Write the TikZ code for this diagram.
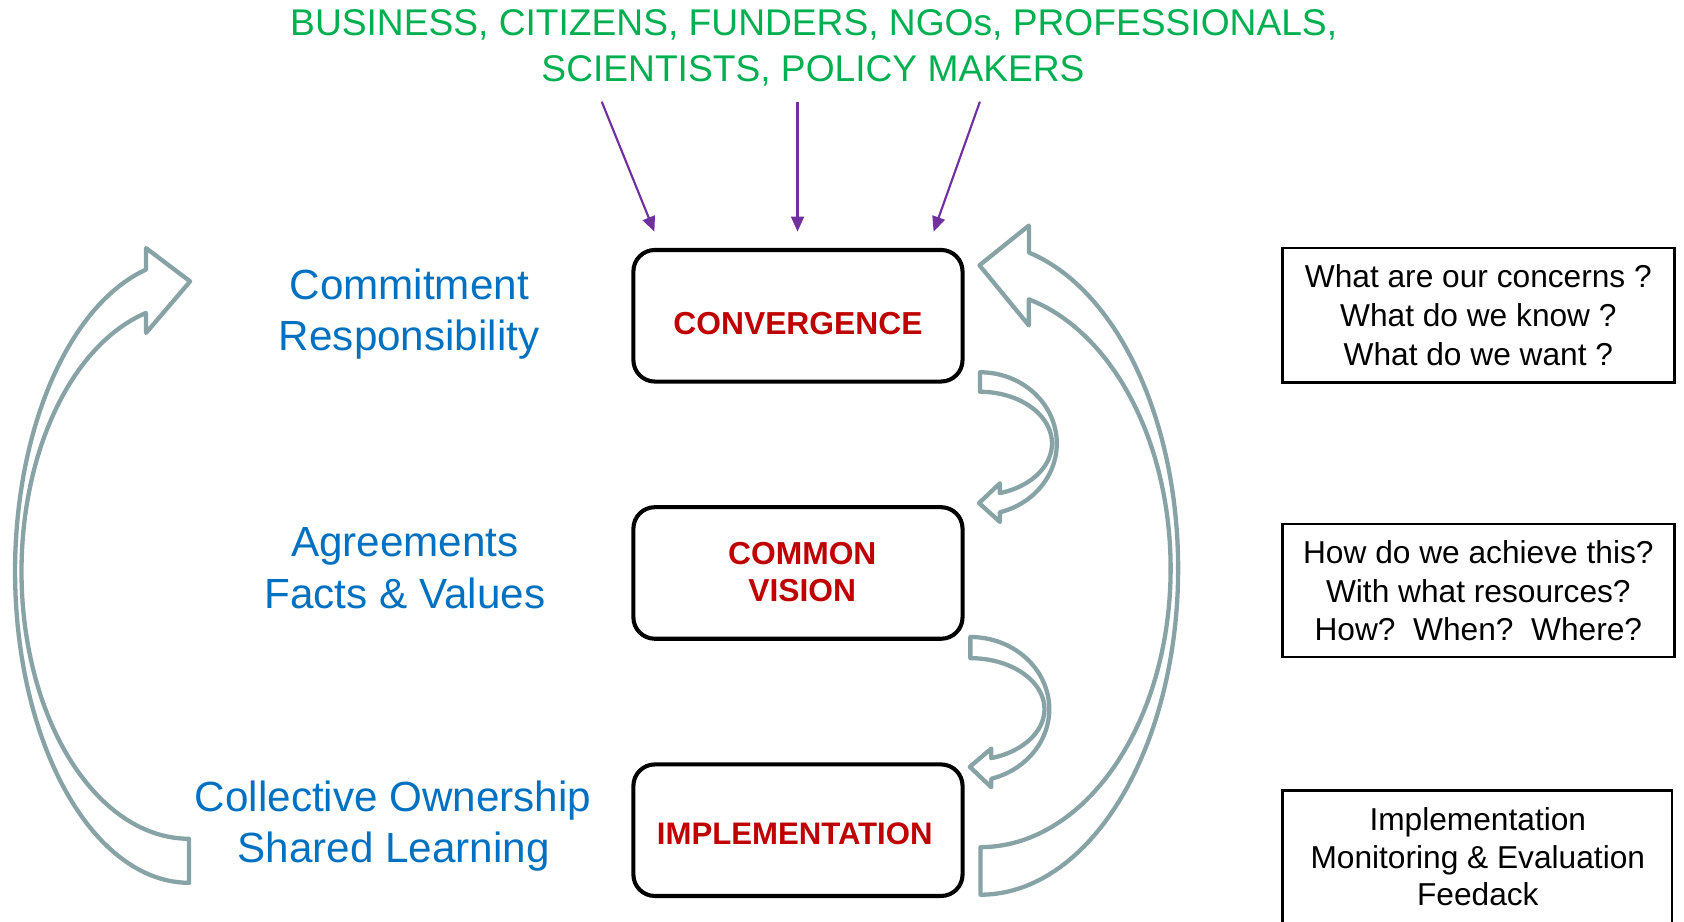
\documentclass[tikz,border=0pt]{standalone}
\usepackage{fontspec}
\setmainfont{Liberation Sans}
\usetikzlibrary{arrows.meta}
\definecolor{tgreen}{RGB}{0,176,80}
\definecolor{tblue}{RGB}{0,112,192}
\definecolor{tred}{RGB}{192,0,0}
\definecolor{tpurple}{RGB}{112,48,160}
\definecolor{tgrey}{RGB}{136,163,166}
\begin{document}
\begin{tikzpicture}[x=1pt,y=-1pt,
  stagebox/.style={draw=black, line width=3.8pt, rounded corners=20pt, minimum width=306.5pt, minimum height=122.5pt, inner sep=0pt},
  qbox/.style={draw=black, line width=2.2pt, minimum width=365pt, minimum height=125pt, align=center, font=\fontsize{29.5}{36}\selectfont, inner sep=0pt},
  qtext/.style={align=center, font=\fontsize{29.5}{35}\selectfont, inner sep=0pt},
  stagetext/.style={text=tred, font=\bfseries\fontsize{29.6}{35}\selectfont, align=center, inner sep=0pt},
  bluetext/.style={text=tblue, font=\fontsize{39.3}{48}\selectfont, anchor=base, inner sep=0pt},
  greentext/.style={text=tgreen, font=\fontsize{34.6}{42}\selectfont, anchor=base, inner sep=0pt},
  feed/.style={draw=tpurple, line width=2pt, -{Triangle[length=14pt,width=12pt]}},
  cyclearrow/.style={draw=tgrey, line width=4pt, line join=round}
]
\useasboundingbox (0,0) rectangle (1568,857.6);
\clip (0,0) rectangle (1568,857.6);

% top stakeholders
\node[greentext] (g1) at (757.6,33.5) {BUSINESS, CITIZENS, FUNDERS, NGOs, PROFESSIONALS,};
\node[greentext] (g2) at (757,76) {SCIENTISTS, POLICY MAKERS};

% stage boxes
\node[stagebox] (conv) at (743,294) {};
\node[stagebox] (vis)  at (743,533.5) {};
\node[stagebox] (impl) at (743,773) {};
\node[stagetext] (convt) at (743,301) {CONVERGENCE};
\node[stagetext] (vist)  at (747,532.5) {COMMON\\VISION};
\node[stagetext, font=\bfseries\fontsize{29}{35}\selectfont] (implt) at (740,776) {IMPLEMENTATION};

% purple input arrows
\coordinate (s1) at (560.3,94.7); \coordinate (e1) at (609.3,215.7);
\coordinate (s2) at (742.6,94.7); \coordinate (e2) at (742.6,215.7);
\coordinate (s3) at (912.4,94.7); \coordinate (e3) at (869.3,215.7);
\draw[feed] (s1) -- (e1);
\draw[feed] (s2) -- (e2);
\draw[feed] (s3) -- (e3);

% blue left texts
\node[bluetext] (b1) at (381,278.5) {Commitment};
\node[bluetext] (b2) at (381,326) {Responsibility};
\node[bluetext] (b3) at (377,518) {Agreements};
\node[bluetext] (b4) at (377,566.5) {Facts \& Values};
\node[bluetext] (b5) at (366,755.5) {Collective Ownership};
\node[bluetext] (b6) at (366.5,803.5) {Shared Learning};

% right question boxes
\node[qbox] (q1) at (1376.5,293.5) {What are our concerns ?\\What do we know ?\\What do we want ?};
\node[qbox, minimum height=124pt] (q2) at (1376.5,550) {How do we achieve this?\\With what resources?\\How?\ \ When?\ \ Where?};
\node[qbox, minimum width=363pt, minimum height=140pt] (q3) at (1375.5,806) {};
\node[qtext] (q3t) at (1376,798) {Implementation\\Monitoring \& Evaluation\\Feedack};

% big left curved arrow (feedback up)
\draw[cyclearrow]
  plot[domain=90:255.7,samples=90,variable=\t] ({176+162*cos(\t)},{532+290*sin(\t)})
  -- (136,231) -- (177,262) -- (136,310)
  -- plot[domain=255.1:90,samples=90,variable=\t] ({176+156*cos(\t)},{532+249*sin(\t)})
  -- cycle;

% big right curved arrow
\draw[cyclearrow]
  plot[domain=90:-75.8,samples=90,variable=\t] ({913+184*cos(\t)},{529.5+303.6*sin(\t)})
  -- (958,210) -- (912,247) -- (958,303)
  -- plot[domain=-75.3:90,samples=90,variable=\t] ({913+177*cos(\t)},{529.5+259.3*sin(\t)})
  -- cycle;

% small arrow convergence -> vision
\draw[cyclearrow]
  plot[domain=-90:75,samples=60,variable=\t] ({912.5+71.5*cos(\t)},{412.9+66.3*sin(\t)})
  -- (931,486) -- (911.6,468.4) -- (931,450)
  -- plot[domain=74:-90,samples=60,variable=\t] ({912.5+67*cos(\t)},{412.9+48.1*sin(\t)})
  -- cycle;

% small arrow vision -> implementation
\draw[cyclearrow]
  plot[domain=-90:74.6,samples=60,variable=\t] ({903.5+73.5*cos(\t)},{660.3+67.2*sin(\t)})
  -- (923,733) -- (903,714) -- (923,697)
  -- plot[domain=73.6:-90,samples=60,variable=\t] ({903.5+69*cos(\t)},{660.3+47.5*sin(\t)})
  -- cycle;
\end{tikzpicture}
\end{document}
